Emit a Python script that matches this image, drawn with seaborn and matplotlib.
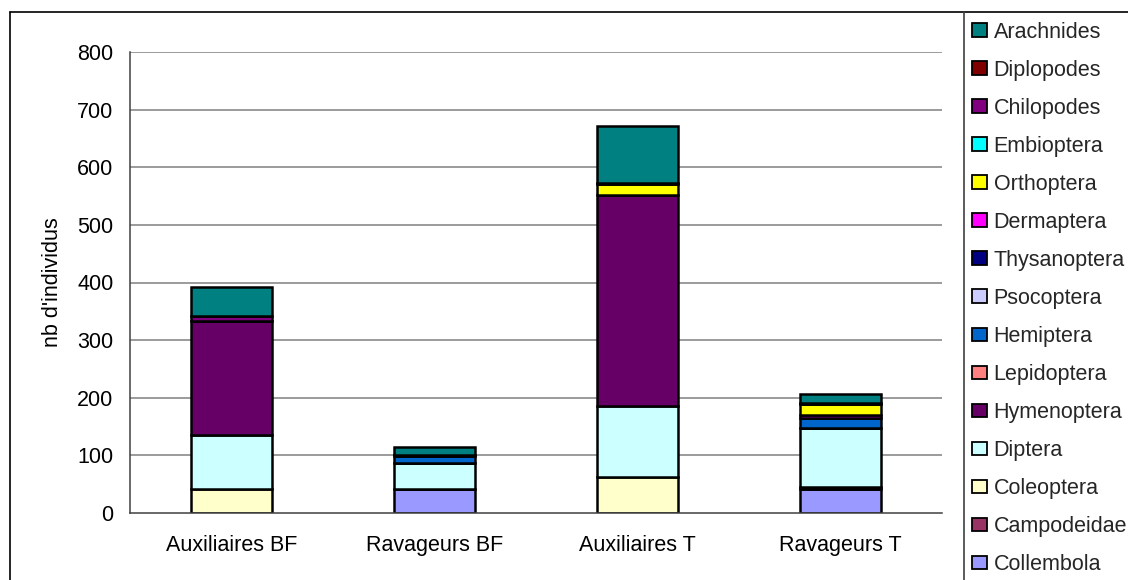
import numpy as np
import matplotlib
matplotlib.use("Agg")
import matplotlib.pyplot as plt
from matplotlib.patches import Patch
from matplotlib.lines import Line2D
import seaborn as sns

sites = ["Auxiliaires BF", "Ravageurs BF", "Auxiliaires T", "Ravageurs T"]

# individuals counted per taxon at each site, listed from the bottom of the stack up
collembola   = [0, 41, 0, 41]
campodeidae  = [0, 0, 0, 0]
coleoptera   = [42, 0, 63, 4]
diptera      = [94, 46, 122, 103]
hymenoptera  = [198, 0, 367, 0]
lepidoptera  = [0, 0, 0, 0]
hemiptera    = [0, 12, 0, 16]
psocoptera   = [0, 0, 0, 0]
thysanoptera = [0, 2, 0, 0]
dermaptera   = [0, 0, 0, 6]
orthoptera   = [0, 0, 19, 19]
embioptera   = [0, 0, 0, 0]
chilopodes   = [7, 0, 2, 2]
diplopodes   = [0, 0, 0, 0]
arachnides   = [51, 14, 98, 16]

taxa = [
    ("Collembola", collembola, "#9999FF"),
    ("Campodeidae", campodeidae, "#993366"),
    ("Coleoptera", coleoptera, "#FFFFCC"),
    ("Diptera", diptera, "#CCFFFF"),
    ("Hymenoptera", hymenoptera, "#660066"),
    ("Lepidoptera", lepidoptera, "#FF8080"),
    ("Hemiptera", hemiptera, "#0066CC"),
    ("Psocoptera", psocoptera, "#CCCCFF"),
    ("Thysanoptera", thysanoptera, "#000080"),
    ("Dermaptera", dermaptera, "#FF00FF"),
    ("Orthoptera", orthoptera, "#FFFF00"),
    ("Embioptera", embioptera, "#00FFFF"),
    ("Chilopodes", chilopodes, "#800080"),
    ("Diplopodes", diplopodes, "#800000"),
    ("Arachnides", arachnides, "#008080"),
]

sns.set_theme(style="white")
plt.rcParams["font.family"] = ["Liberation Sans", "DejaVu Sans"]
FS = 15.5

W, H = 1128, 580
fig = plt.figure(figsize=(W / 100, H / 100), dpi=100)
ax = fig.add_axes([130 / W, 67 / H, 812 / W, 461 / H])

# horizontal gridlines behind the bars
for v in range(100, 801, 100):
    ax.axhline(v, color="#808080", lw=1.1, zorder=0)

bottom = np.zeros(len(sites))
for name, vals, col in taxa:
    vals = np.asarray(vals, dtype=float)
    sns.barplot(x=sites, y=vals, bottom=bottom, color=col, width=0.4,
                edgecolor="black", linewidth=1.8, saturation=1,
                errorbar=None, ax=ax, zorder=2)
    bottom = bottom + vals

ax.set_xlim(-0.5, len(sites) - 0.5)
ax.set_ylim(0, 800)
ax.set_yticks(range(0, 801, 100))
ax.set_yticklabels([str(v) for v in range(0, 801, 100)], fontsize=FS)
ax.set_xticks(range(len(sites)))
ax.set_xticklabels(sites, fontsize=FS)
ax.set_xticks(np.arange(-0.5, len(sites), 1), minor=True)
ax.tick_params(axis="x", which="major", length=0, pad=16, colors="black")
ax.tick_params(axis="x", which="minor", length=6, width=1.1, direction="out", color="#404040")
ax.tick_params(axis="y", which="major", length=6, width=1.1, direction="out",
               color="#404040", pad=6, labelcolor="black")
ax.grid(False)

for s in ("top", "right"):
    ax.spines[s].set_visible(False)
for s in ("left", "bottom"):
    ax.spines[s].set_color("#404040")
    ax.spines[s].set_linewidth(1.1)
ax.set_xlabel("")
ax.set_ylabel("nb d'individus", fontsize=FS, color="black")
ax.yaxis.set_label_coords(-0.083, 0.5)

# outer frame and legend panel border
fx = lambda px: px / W
fy = lambda py: 1 - py / H
fig.add_artist(Line2D([fx(10), fx(10)], [0, fy(12)], transform=fig.transFigure, color="black", lw=1.2))
fig.add_artist(Line2D([fx(10), 1], [fy(12), fy(12)], transform=fig.transFigure, color="black", lw=1.2))
fig.add_artist(Line2D([fx(964), fx(964)], [0, fy(12)], transform=fig.transFigure, color="#404040", lw=1.2))

handles = [Patch(facecolor=col, edgecolor="black", linewidth=1.3) for _, _, col in reversed(taxa)]
labels = [name for name, _, _ in reversed(taxa)]
fig.legend(handles, labels, loc="upper left", bbox_to_anchor=(fx(972), fy(22)),
           frameon=False, fontsize=FS, handlelength=0.7, handleheight=0.62,
           handletextpad=0.3, labelspacing=0.79, borderpad=0, borderaxespad=0)

fig.savefig("out.png", dpi=100)
